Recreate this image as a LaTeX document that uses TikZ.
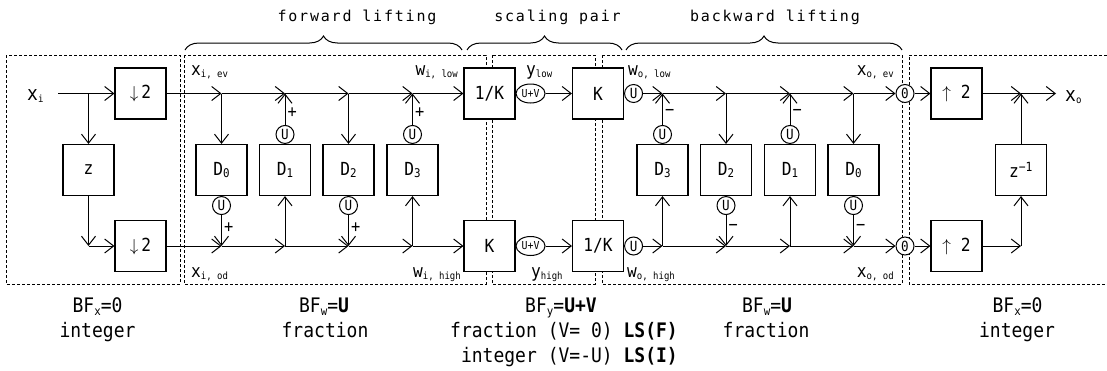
\documentclass[tikz,border=0pt]{standalone}
\usepackage{fontspec}
\setmainfont{DejaVu Sans Mono}[FakeStretch=0.9]
\newfontfamily\titlefont{DejaVu Sans Mono}[LetterSpace=12]
\usetikzlibrary{arrows.meta,positioning,shapes.geometric,decorations.pathreplacing}

\newcommand{\fs}[1]{\fontsize{#1}{#1}\selectfont}
\newcommand{\lowsub}[1]{\raisebox{-2pt}{\fs{10}#1}}
\newcommand{\sigx}[2]{{\fs{18}#1}\lowsub{#2}}
\newcommand{\dsub}[1]{\raisebox{-1.5pt}{\fs{12}#1}}
\newcommand{\bsub}[1]{\raisebox{-3pt}{\fs{12}#1}}

\tikzset{
  blk/.style={draw,fill=white,line width=1.1pt,minimum width=51pt,minimum height=51pt,inner sep=0pt,font=\fs{18}},
  rnd/.style={draw,fill=white,circle,line width=1pt,minimum size=18pt,inner sep=0pt,font=\fs{14}},
  elp/.style={draw,fill=white,ellipse,line width=1pt,minimum width=29pt,minimum height=19pt,inner sep=0pt,font=\fs{11}},
  arr/.style={line width=1pt,-{Straight Barb[length=9pt,width=14pt,line width=1pt]}},
  grp/.style={line width=0.9pt,dash pattern=on 3pt off 2pt},
  brc/.style={line width=1pt,decorate,decoration={brace,amplitude=14pt}},
  sgn/.style={right,pos=.4,inner sep=2pt,font=\fs{17}},
  lbl/.style={anchor=base,inner sep=0pt,font=\fs{20}},
  ttl/.style={anchor=base,inner sep=0pt,font=\titlefont\fs{15}},
  sl/.style={inner sep=0pt}
}

\begin{document}
\begin{tikzpicture}[x=1pt,y=1pt,yscale=-1]
\useasboundingbox (0,0) rectangle (1107,370);

% dashed groups
\draw[grp] (6,55) rectangle (180,284);
\draw[grp] (184,55) rectangle (486,284);
\draw[grp] (492,55) rectangle (595,284);
\draw[grp] (602,55) rectangle (902,284);
\draw[grp] (1107,55) -- (909,55) -- (909,284) -- (1107,284);

% braces and titles
\draw[brc] (185,50) -- (462,50);
\draw[brc] (467,50) -- (622,50);
\draw[brc] (626,50) -- (902,50);
\node[ttl] (tfwd) at (357,21) {forward lifting};
\node[ttl] (tscl) at (557.5,21) {scaling pair};
\node[ttl] (tbwd) at (775,21) {backward lifting};

% split
\coordinate (xin) at (58,93.5);
\node[sl,anchor=base west] (lxi) at (27,100) {{\fs{20}x}\lowsub{i}};
\node[blk] (dn1) at (140.5,93.5) {$\downarrow$\,2};
\node[blk] (zd) at (88.5,170) {z};
\node[blk] (dn2) at (140.5,246) {$\downarrow$\,2};
\coordinate (jz) at (zd |- dn1);
\coordinate (jzb) at (zd |- dn2);

% forward lifting
\node[blk] (fd0) at (221.5,170) {D\dsub{0}};
\node[blk] (fd1) at (285,170) {D\dsub{1}};
\node[blk] (fd2) at (348.5,170) {D\dsub{2}};
\node[blk] (fd3) at (412.5,170) {D\dsub{3}};
\node[rnd,anchor=north] (fu0) at (fd0.south) {U};
\node[rnd,anchor=south] (fu1) at (fd1.north) {U};
\node[rnd,anchor=north] (fu2) at (fd2.south) {U};
\node[rnd,anchor=south] (fu3) at (fd3.north) {U};
\coordinate (ft0) at (fd0 |- dn1);
\coordinate (ft1) at (fd1 |- dn1);
\coordinate (ft2) at (fd2 |- dn1);
\coordinate (ft3) at (fd3 |- dn1);
\coordinate (fb0) at (fd0 |- dn2);
\coordinate (fb1) at (fd1 |- dn2);
\coordinate (fb2) at (fd2 |- dn2);
\coordinate (fb3) at (fd3 |- dn2);

% scaling pair
\node[blk] (sa) at (489.5,93.5) {1/K};
\node[elp,anchor=west] (se1) at (sa.east) {U+V};
\node[blk] (sb) at (598,93.5) {K};
\node[rnd,anchor=west] (bu0) at (sb.east) {U};
\node[blk] (sc) at (489.5,246) {K};
\node[elp,anchor=west] (se2) at (sc.east) {U+V};
\node[blk] (sd) at (598,246) {1/K};
\node[rnd,anchor=west] (bu1) at (sd.east) {U};

% backward lifting
\node[blk] (bd3) at (662.5,170) {D\dsub{3}};
\node[blk] (bd2) at (726,170) {D\dsub{2}};
\node[blk] (bd1) at (790,170) {D\dsub{1}};
\node[blk] (bd0) at (853.5,170) {D\dsub{0}};
\node[rnd,anchor=south] (bv3) at (bd3.north) {U};
\node[rnd,anchor=north] (bv2) at (bd2.south) {U};
\node[rnd,anchor=south] (bv1) at (bd1.north) {U};
\node[rnd,anchor=north] (bv0) at (bd0.south) {U};
\coordinate (bt3) at (bd3 |- sb);
\coordinate (bt2) at (bd2 |- sb);
\coordinate (bt1) at (bd1 |- sb);
\coordinate (bt0) at (bd0 |- sb);
\coordinate (bb3) at (bd3 |- sd);
\coordinate (bb2) at (bd2 |- sd);
\coordinate (bb1) at (bd1 |- sd);
\coordinate (bb0) at (bd0 |- sd);
\node[rnd] (o1) at (905,93.5) {0};
\node[rnd] (o2) at (905,246) {0};

% merge
\node[blk] (up1) at (956.5,93.5) {$\uparrow$~2};
\node[blk] (up2) at (956.5,246) {$\uparrow$~2};
\node[blk] (zi) at (1021,170) {z\textsuperscript{−1}};
\coordinate (rj) at (zi |- up1);
\coordinate (rk) at (zi |- up2);
\coordinate (xout) at (1056,93.5);
\node[sl,anchor=base west] (lxo) at (1065,101) {{\fs{20}x}\lowsub{o}};

% signal names
\node[sl,anchor=base west] (lxiev) at (191,75) {\sigx{x}{i, ev}};
\node[sl,anchor=base east] (lwil) at (458,75) {\sigx{w}{i, low}};
\node[sl,anchor=base west] (lyl) at (526,75) {\sigx{y}{low}};
\node[sl,anchor=base west] (lwol) at (628,75) {\sigx{w}{o, low}};
\node[sl,anchor=base east] (lxoe) at (894,75) {\sigx{x}{o, ev}};
\node[sl,anchor=base west] (lxiod) at (191,277) {\sigx{x}{i, od}};
\node[sl,anchor=base east] (lwih) at (461,277) {\sigx{w}{i, high}};
\node[sl,anchor=base west] (lyh) at (531,277) {\sigx{y}{high}};
\node[sl,anchor=base west] (lwoh) at (627,277) {\sigx{w}{o, high}};
\node[sl,anchor=base east] (lxood) at (894,277) {\sigx{x}{o, od}};

% connectors: split
\draw[arr] (xin) -- (dn1);
\draw[arr] (jz) -- (zd);
\draw[arr] (zd) -- (jzb);
\draw[arr] (jzb) -- (dn2);
% connectors: forward
\draw[arr] (dn1) -- (ft0);
\draw[arr] (ft0) -- (ft1);
\draw[arr] (ft1) -- (ft2);
\draw[arr] (ft2) -- (ft3);
\draw[arr] (ft3) -- (sa);
\draw[arr] (ft0) -- (fd0);
\draw[arr] (fu1) -- node[sgn]{+} (ft1);
\draw[arr] (ft2) -- (fd2);
\draw[arr] (fu3) -- node[sgn]{+} (ft3);
\draw[arr] (dn2) -- (fb0);
\draw[arr] (fb0) -- (fb1);
\draw[arr] (fb1) -- (fb2);
\draw[arr] (fb2) -- (fb3);
\draw[arr] (fb3) -- (sc);
\draw[arr] (fu0) -- node[sgn]{+} (fb0);
\draw[arr] (fb1) -- (fd1);
\draw[arr] (fu2) -- node[sgn]{+} (fb2);
\draw[arr] (fb3) -- (fd3);
% connectors: scaling
\draw[arr] (se1) -- (sb);
\draw[arr] (se2) -- (sd);
% connectors: backward
\draw[arr] (bu0) -- (bt3);
\draw[arr] (bt3) -- (bt2);
\draw[arr] (bt2) -- (bt1);
\draw[arr] (bt1) -- (bt0);
\draw[arr] (bt0) -- (o1);
\draw[arr] (bv3) -- node[sgn]{−} (bt3);
\draw[arr] (bt2) -- (bd2);
\draw[arr] (bv1) -- node[sgn]{−} (bt1);
\draw[arr] (bt0) -- (bd0);
\draw[arr] (bu1) -- (bb3);
\draw[arr] (bb3) -- (bb2);
\draw[arr] (bb2) -- (bb1);
\draw[arr] (bb1) -- (bb0);
\draw[arr] (bb0) -- (o2);
\draw[arr] (bb3) -- (bd3);
\draw[arr] (bv2) -- node[sgn]{−} (bb2);
\draw[arr] (bb1) -- (bd1);
\draw[arr] (bv0) -- node[sgn]{−} (bb0);
% connectors: merge
\draw[arr] (o1) -- (up1);
\draw[arr] (up1) -- (rj);
\draw[arr] (rj) -- (xout);
\draw[arr] (zi) -- (rj);
\draw[arr] (o2) -- (up2);
\draw[arr] (up2) -- (rk);
\draw[arr] (rk) -- (zi);

% bottom notes
\node[lbl] (bfx1) at (97.5,312) {BF\bsub{x}=0};
\node[lbl] (int1) at (97.5,337) {integer};
\node[lbl] (bfw1) at (324,312) {BF\bsub{w}=\textbf{U}};
\node[lbl] (frc1) at (325,337) {fraction};
\node[lbl] (bfy) at (561,312) {BF\bsub{y}=\textbf{U+V}};
\node[lbl,anchor=base east] (lsf) at (678,337) {fraction (V= 0) \textbf{LS(F)}};
\node[lbl,anchor=base east] (lsi) at (678,362) {integer (V=-U) \textbf{LS(I)}};
\node[lbl] (bfw2) at (767,312) {BF\bsub{w}=\textbf{U}};
\node[lbl] (frc2) at (766,337) {fraction};
\node[lbl] (bfx2) at (1017.5,312) {BF\bsub{x}=0};
\node[lbl] (int2) at (1017,337) {integer};
\end{tikzpicture}
\end{document}
